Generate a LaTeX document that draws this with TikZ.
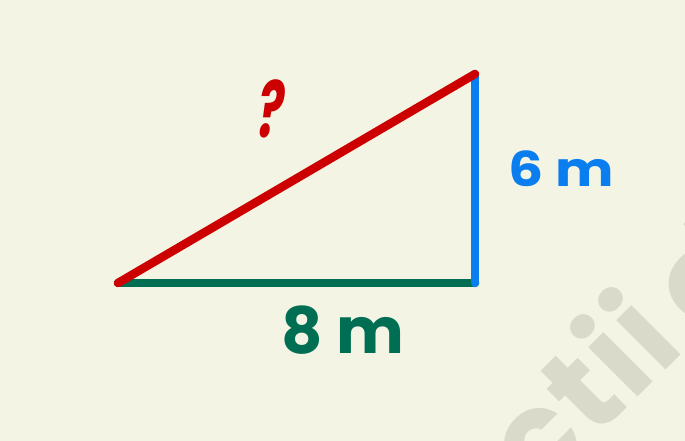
\documentclass[tikz,border=0pt]{standalone}
\usepackage{fontspec}
\newfontfamily\pop{Poppins}
\definecolor{bg}{HTML}{F4F4E4}
\definecolor{rd}{HTML}{CC0000}
\definecolor{bl}{HTML}{0A7EEE}
\definecolor{gn}{HTML}{006E52}
\definecolor{wm}{HTML}{DADACB}
\tikzset{side/.style={line width=8.5pt, line cap=round},
  lbl/.style={font=\pop\bfseries, inner sep=0pt},
  wmark/.style={inner sep=0pt, text=wm, font=\pop\bfseries\fontsize{125}{125}\selectfont, rotate=45, anchor=base}}
\begin{document}
\begin{tikzpicture}[x=1pt,y=-1pt]
\fill[bg] (0,0) rectangle (685,441);
\useasboundingbox (0,0) rectangle (685,441);
\begin{scope}[shift={(-11,-10)}]
\clip (11,10) rectangle (696,451);
\node[wmark] (w1) at (576,480) {c};
\node[wmark] (w2) at (623.7,432.8) {t};
\node[wmark] (w3) at (656.8,399.8) {i};
\node[wmark] (w4) at (684.6,372) {i};
\node[wmark] (w5) at (742,318) {o};
\node[wmark] (w6) at (768,292) {l};
\end{scope}
\coordinate (A) at (118,283);
\coordinate (B) at (475,283);
\coordinate (C) at (475,74);
\draw[side, gn] (A) -- (B);
\draw[side, bl] (B) -- (C);
\draw[side, rd] (A) -- (C);
\node[lbl, text=rd, font=\pop\bfseries\fontsize{78}{78}\selectfont, xslant=0.15, xscale=0.62] (q) at (272,109) {?};
\node[lbl, text=bl, font=\pop\bfseries\fontsize{48}{48}\selectfont, xscale=1.15] (six) at (561,169) {6 m};
\node[lbl, text=gn, font=\pop\bfseries\fontsize{64}{64}\selectfont] (eight) at (343,330) {8 m};
\end{tikzpicture}
\end{document}
